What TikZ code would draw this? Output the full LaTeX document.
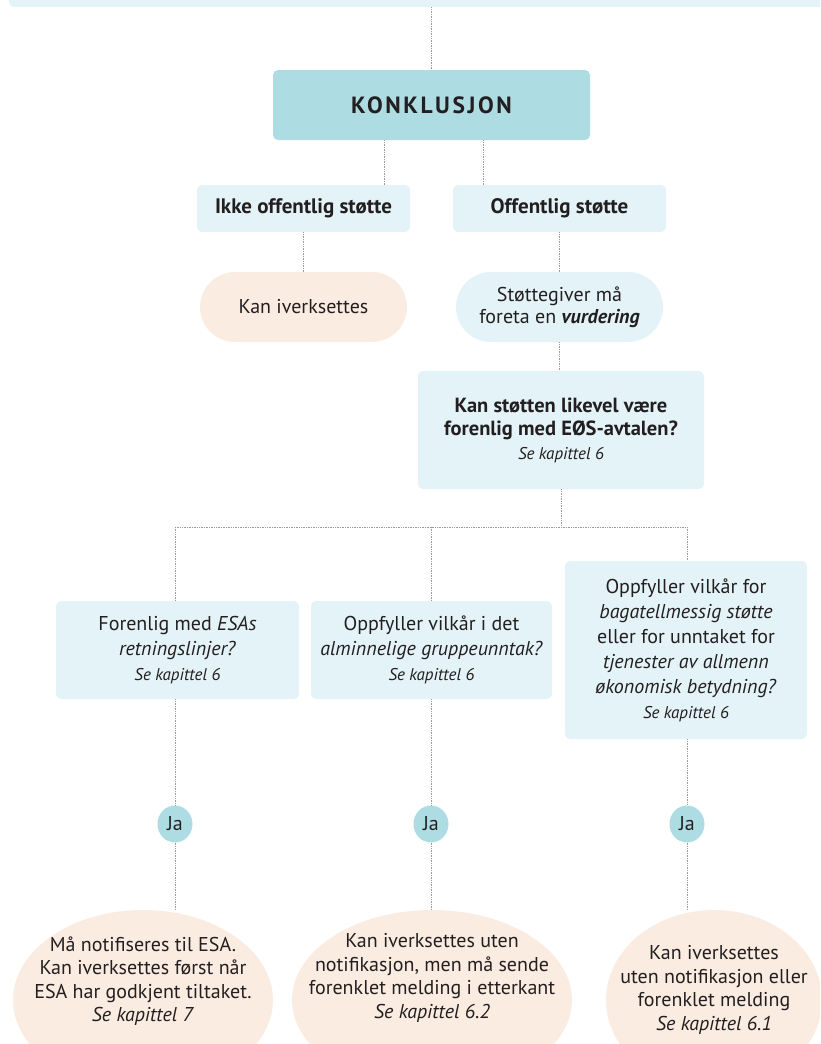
\documentclass[tikz,border=0pt]{standalone}
\usepackage{fontspec}
\setmainfont{PT Sans}
\usetikzlibrary{shapes.geometric}

\definecolor{konkblue}{HTML}{AEDCE3}
\definecolor{paleblue}{HTML}{E3F3F7}
\definecolor{peachfill}{HTML}{FBECE1}
\definecolor{inkgray}{HTML}{231F20}
\definecolor{linegray}{HTML}{9A9A9A}

\tikzset{
  box/.style={rectangle, rounded corners=5pt, fill=paleblue, inner sep=0pt,
    align=center, text=inkgray, font=\fontsize{20}{25}\selectfont},
  konkbox/.style={box, fill=konkblue},
  pill/.style={box, rounded corners=35pt},
  oval/.style={ellipse, inner sep=0pt, fill=peachfill},
  ovaltext/.style={align=center, text=inkgray, inner sep=0pt,
    font=\fontsize{20}{23.5}\selectfont},
  yesdot/.style={ellipse, fill=konkblue, minimum width=35pt, minimum height=37pt,
    inner sep=0pt, text=inkgray, font=\fontsize{20}{22}\selectfont},
  link/.style={draw=linegray, line width=0.7pt, densely dotted},
}
\newcommand{\seeref}[1]{{\fontsize{17}{20}\selectfont\textit{Se kapittel #1}}}

\begin{document}
\begin{tikzpicture}[x=1pt, y=-1pt]
  \useasboundingbox (0,0) rectangle (820,1044);
  \clip (0,0) rectangle (820,1044);

  % Boxes
  \node[box, minimum width=830pt, minimum height=40pt] (check) at (424,-13) {};
  \node[konkbox, minimum width=317pt, minimum height=70pt,
    font=\fontsize{23.5}{26}\selectfont\bfseries\addfontfeature{LetterSpace=11}]
    (konk) at (431.5,105) {KONKLUSJON};
  \node[box, minimum width=213pt, minimum height=47pt, font=\fontsize{21}{24}\selectfont\bfseries]
    (ikke) at (303.5,208.5) {Ikke offentlig støtte};
  \node[box, minimum width=213pt, minimum height=47pt, font=\fontsize{21}{24}\selectfont\bfseries]
    (off) at (559.5,208.5) {Offentlig støtte};
  \node[pill, fill=peachfill, minimum width=207pt, minimum height=70pt]
    (kan) at (303.5,307) {Kan iverksettes};
  \node[pill, minimum width=207pt, minimum height=70pt, font=\fontsize{20}{22}\selectfont]
    (vurd) at (559.5,307) {Støttegiver må\\foreta en \textbf{\textit{vurdering}}};
  \node[box, minimum width=286pt, minimum height=118pt, font=\fontsize{20.5}{23.5}\selectfont]
    (q) at (561,430) {\textbf{Kan støtten likevel være}\\\textbf{forenlig med EØS-avtalen?}\\\seeref{6}};

  \node[box, minimum width=243pt, minimum height=98pt]
    (b1) at (177.5,650) {Forenlig med \textit{ESAs}\\\textit{retningslinjer?}\\\seeref{6}};
  \node[box, minimum width=241pt, minimum height=98pt]
    (b2) at (431.5,650) {Oppfyller vilkår i det\\\textit{alminnelige gruppeunntak?}\\\seeref{6}};
  \node[box, minimum width=242pt, minimum height=178pt]
    (b3) at (686,650) {Oppfyller vilkår for\\\textit{bagatellmessig støtte}\\eller for unntaket for\\
      \textit{tjenester av allmenn}\\\textit{økonomisk betydning?}\\\seeref{6}};

  % Ja
  \node[yesdot] (ja1) at (175,824) {Ja};
  \node[yesdot] (ja2) at (431,824) {Ja};
  \node[yesdot] (ja3) at (687,824) {Ja};

  % Results
  \node[oval, minimum width=260pt, minimum height=180pt] (r1) at (143,1000) {};
  \node[oval, minimum width=280pt, minimum height=180pt] (r2) at (432,1000) {};
  \node[oval, minimum width=216pt, minimum height=180pt] (r3) at (714,1000) {};
  \node[ovaltext] (r1t) at (143,981)
    {Må notifiseres til ESA.\\Kan iverksettes først når\\ESA har godkjent tiltaket.\\\textit{Se kapittel 7}};
  \node[ovaltext] (r2t) at (432,978)
    {Kan iverksettes uten\\notifikasjon, men må sende\\forenklet melding i etterkant\\\textit{Se kapittel 6.2}};
  \node[ovaltext] (r3t) at (714,990)
    {Kan iverksettes\\uten notifikasjon eller\\forenklet melding\\\textit{Se kapittel 6.1}};

  % Links
  \coordinate (kl) at (384,0);
  \coordinate (kr) at (483,0);
  \coordinate (busL) at (175,527);
  \coordinate (busR) at (687,527);
  \draw[link] (check.south -| konk.north) -- (konk.north);
  \draw[link] (konk.south -| kl) -- (ikke.north -| kl);
  \draw[link] (konk.south -| kr) -- (off.north -| kr);
  \draw[link] (ikke.south) -- (kan.north);
  \draw[link] (off.south) -- (vurd.north);
  \draw[link] (vurd.south) -- (vurd.south |- q.north);
  \draw[link] (q.south) -- (q.south |- busL);
  \draw[link] (busL) -- (busR);
  \draw[link] (busL) -- (busL |- b1.north);
  \draw[link] (b2.north |- busL) -- (b2.north);
  \draw[link] (busR) -- (busR |- b3.north);
  \draw[link] (ja1.north |- b1.south) -- (ja1.north);
  \draw[link] (ja2.north |- b2.south) -- (ja2.north);
  \draw[link] (ja3.north |- b3.south) -- (ja3.north);
  \draw[link] (ja1.south) -- (ja1.south |- r1.north);
  \draw[link] (ja2.south) -- (ja2.south |- r2.north);
  \draw[link] (ja3.south) -- (ja3.south |- r3.north);

\end{tikzpicture}
\end{document}
